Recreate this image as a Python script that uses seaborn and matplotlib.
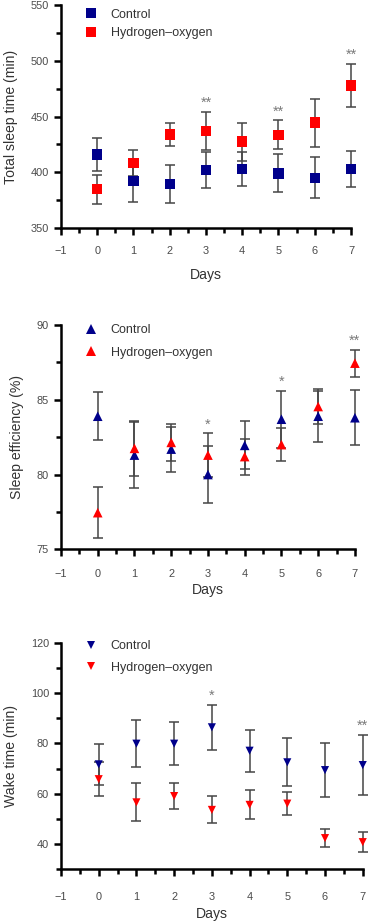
import matplotlib
matplotlib.use("Agg")
import matplotlib.pyplot as plt
import seaborn as sns
import pandas as pd
from matplotlib.ticker import MultipleLocator

# ---------------- data ----------------
days = [0, 1, 2, 3, 4, 5, 6, 7]
groups = ["Control", "Hydrogen\u2013oxygen"]

tst_control = [416, 392, 389.5, 402, 403, 399, 395, 403]
tst_control_err = [14.5, 19, 17, 16.5, 15, 17, 18.5, 16]
tst_h2 = [385, 408.5, 434, 437, 427.5, 433.5, 444.5, 478]
tst_h2_err = [13, 11.5, 10.5, 17, 17, 13, 21.5, 19]
tst_sig = ["", "", "", "**", "", "**", "", "**"]

se_control = [83.9, 81.3, 81.7, 80.0, 81.95, 83.7, 83.9, 83.8]
se_control_err = [1.6, 2.2, 1.5, 1.9, 1.6, 1.9, 1.7, 1.85]
se_h2 = [77.45, 81.75, 82.15, 81.3, 81.2, 82.0, 84.55, 87.45]
se_h2_err = [1.7, 1.85, 1.25, 1.45, 1.2, 1.1, 1.15, 0.9]
se_sig = ["", "", "", "*", "", "*", "", "**"]

wt_control = [71.7, 79.9, 79.9, 86.4, 77.1, 72.5, 69.4, 71.4]
wt_control_err = [8.2, 9.2, 8.6, 9.0, 8.4, 9.5, 10.7, 12.0]
wt_h2 = [65.8, 56.6, 59.1, 53.6, 55.6, 56.1, 42.4, 40.8]
wt_h2_err = [6.8, 7.6, 5.1, 5.4, 5.8, 4.7, 3.5, 4.0]
wt_sig = ["", "", "", "*", "", "", "", "**"]

# ---------------- style ----------------
sns.set_theme(style="ticks")
plt.rcParams["font.family"] = ["Liberation Sans", "DejaVu Sans"]
plt.rcParams["axes.unicode_minus"] = True

BLUE = "#00008b"
RED = "#ff0000"
ERR = "#454545"
TXT = "#333333"
TICKTXT = "#4a4a4a"

fig = plt.figure(figsize=(3.73, 9.21), dpi=100)

panels = [
    dict(rect=[0.1635, 0.7524, 0.7775, 0.2421], ylim=(350, 550), major=50, minor=25,
         c=tst_control, ce=tst_control_err, h=tst_h2, he=tst_h2_err, sig=tst_sig,
         marker="s", s=56, ylabel="Total sleep time (min)", xpad=7.6, xlabelpad=8.7,
         leg=(0.02, 1.035), labelspacing=0.55),
    dict(rect=[0.1635, 0.4036, 0.788, 0.2435], ylim=(75, 90), major=5, minor=2.5,
         c=se_control, ce=se_control_err, h=se_h2, he=se_h2_err, sig=se_sig,
         marker="^", s=48, ylabel="Sleep efficiency (%)", xpad=9.3, xlabelpad=3,
         leg=(0.02, 1.055), labelspacing=0.85),
    dict(rect=[0.1635, 0.0561, 0.809, 0.2461], ylim=(30, 120), major=20, minor=10,
         c=wt_control, ce=wt_control_err, h=wt_h2, he=wt_h2_err, sig=wt_sig,
         marker="v", s=34, ylabel="Wake time (min)", xpad=11.5, xlabelpad=3.5,
         leg=(0.02, 1.06), labelspacing=0.75),
]

for p in panels:
    ax = fig.add_axes(p["rect"])
    df = pd.DataFrame({
        "Days": days * 2,
        "value": p["c"] + p["h"],
        "err": p["ce"] + p["he"],
        "group": [groups[0]] * len(days) + [groups[1]] * len(days),
    })
    for g in groups:
        sub = df[df["group"] == g]
        eb = ax.errorbar(sub["Days"], sub["value"], yerr=sub["err"], fmt="none",
                         ecolor=ERR, elinewidth=1.1, capsize=3.6, capthick=1.1, zorder=2)
        for art in eb.lines[1] + eb.lines[2]:
            art.set_clip_on(False)
    sns.scatterplot(data=df, x="Days", y="value", hue="group",
                    palette={groups[0]: BLUE, groups[1]: RED},
                    marker=p["marker"], s=p["s"], linewidth=0, ax=ax, zorder=3,
                    clip_on=False)

    # significance marks
    for d, cval, ce, hval, he, st in zip(days, p["c"], p["ce"], p["h"], p["he"], p["sig"]):
        if st:
            top = max(cval + ce, hval + he)
            ax.annotate(st, (d, top), xytext=(0, 1.5), textcoords="offset points",
                        ha="center", va="bottom", fontsize=10.5, color="#7a7a7a")

    ax.set_xlim(-1, 7)
    ax.set_ylim(*p["ylim"])
    ax.xaxis.set_major_locator(MultipleLocator(1))
    ax.xaxis.set_minor_locator(MultipleLocator(0.5))
    ax.yaxis.set_major_locator(MultipleLocator(p["major"]))
    ax.yaxis.set_minor_locator(MultipleLocator(p["minor"]))
    sns.despine(ax=ax)
    for sp in ["left", "bottom"]:
        ax.spines[sp].set_linewidth(1.8)
        ax.spines[sp].set_color("black")
    ax.tick_params(which="major", length=5, width=1.8, color="black",
                   labelsize=7.9, labelcolor=TICKTXT)
    ax.tick_params(which="minor", length=3.5, width=1.8, color="black")
    ax.tick_params(axis="y", which="major", pad=3.6)
    ax.tick_params(axis="x", which="major", pad=p["xpad"])
    ax.set_xlabel("Days", fontsize=10.1, color=TXT, labelpad=p["xlabelpad"])
    ax.set_ylabel(p["ylabel"], fontsize=10.1, color=TXT, labelpad=9)

    sns.move_legend(ax, "upper left", bbox_to_anchor=p["leg"], frameon=False,
                    title=None, fontsize=9, handletextpad=0.6,
                    labelspacing=p["labelspacing"], markerscale=1.0)
    for t in ax.get_legend().get_texts():
        t.set_color(TXT)

fig.savefig("out.png", dpi=100)
